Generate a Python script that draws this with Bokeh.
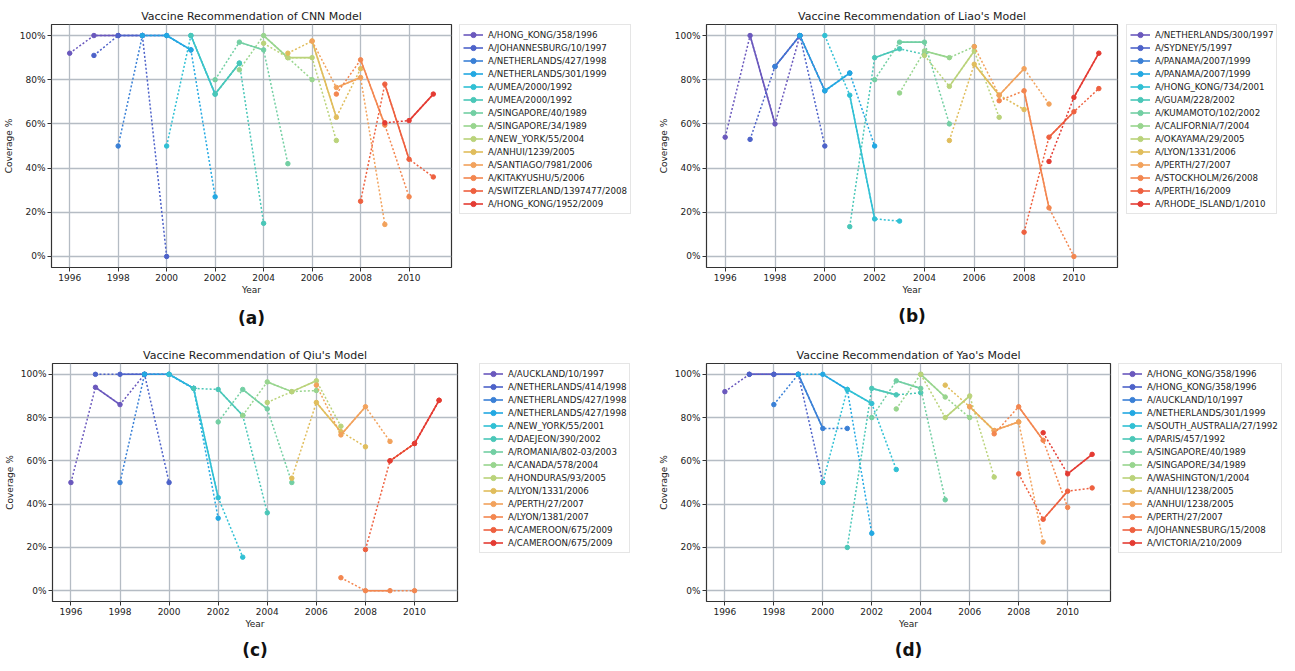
from bokeh.plotting import figure
from bokeh.models import Legend, LegendItem, FixedTicker, PrintfTickFormatter, Title
from bokeh.layouts import column, row
from bokeh.embed import file_html
from bokeh.resources import INLINE

# season year in which each recommended strain is in use (solid segment start)
SEASON_START = [1997, 1998, 1999, 2000, 2001, 2002, 2003, 2004, 2005, 2006, 2007, 2008, 2009, 2010]
X_TICKS = [1996, 1998, 2000, 2002, 2004, 2006, 2008, 2010]
Y_TICKS = [0, 20, 40, 60, 80, 100]

COLORS = ["#6a58bd", "#4d62c9", "#3a80d6", "#22a8e2", "#30c0d4", "#4ac7b8", "#72cfa3",
          "#98d58e", "#bad37a", "#e0bd5c", "#f2a25c", "#f3864f", "#ee603f", "#e43b33"]

# coverage (%) at years start-1, start, start+1, start+2
cnn_labels = ["A/HONG_KONG/358/1996", "A/JOHANNESBURG/10/1997", "A/NETHERLANDS/427/1998",
              "A/NETHERLANDS/301/1999", "A/UMEA/2000/1992", "A/UMEA/2000/1992",
              "A/SINGAPORE/40/1989", "A/SINGAPORE/34/1989", "A/NEW_YORK/55/2004",
              "A/ANHUI/1239/2005", "A/SANTIAGO/7981/2006", "A/KITAKYUSHU/5/2006",
              "A/SWITZERLAND/1397477/2008", "A/HONG_KONG/1952/2009"]
cnn_values = [[92, 100, 100, 100], [91, 100, 100, 0], [50, 100, 100, 93.5], [100, 100, 93.5, 27],
              [50, 100, 73.5, 87.5], [100, 73.5, 87.5, 15], [80, 97, 93.5, 42], [84.5, 100, 90, 80],
              [96.5, 90, 90, 52.5], [92, 97.5, 63, 85], [97.5, 76.5, 81, 14.5], [73.5, 89, 59.5, 27],
              [25, 78, 44, 36], [60.5, 61.5, 73.5]]

liao_labels = ["A/NETHERLANDS/300/1997", "A/SYDNEY/5/1997", "A/PANAMA/2007/1999", "A/PANAMA/2007/1999",
               "A/HONG_KONG/734/2001", "A/GUAM/228/2002", "A/KUMAMOTO/102/2002", "A/CALIFORNIA/7/2004",
               "A/OKAYAMA/29/2005", "A/LYON/1331/2006", "A/PERTH/27/2007", "A/STOCKHOLM/26/2008",
               "A/PERTH/16/2009", "A/RHODE_ISLAND/1/2010"]
liao_values = [[54, 100, 60, 100], [53, 86, 100, 50], [86, 100, 75, 83], [100, 75, 83, 50],
               [100, 73, 17, 16], [13.5, 90, 94, 91.5], [80, 97, 97, 60], [74, 93, 90, 95],
               [91, 77, 93, 63], [52.5, 87, 73, 66.5], [95, 73, 85, 69], [70.5, 75, 22, 0],
               [11, 54, 65.5, 76], [43, 72, 92]]

qiu_labels = ["A/AUCKLAND/10/1997", "A/NETHERLANDS/414/1998", "A/NETHERLANDS/427/1998",
              "A/NETHERLANDS/427/1998", "A/NEW_YORK/55/2001", "A/DAEJEON/390/2002",
              "A/ROMANIA/802-03/2003", "A/CANADA/578/2004", "A/HONDURAS/93/2005", "A/LYON/1331/2006",
              "A/PERTH/27/2007", "A/LYON/1381/2007", "A/CAMEROON/675/2009", "A/CAMEROON/675/2009"]
qiu_values = [[50, 94, 86, 100], [100, 100, 100, 50], [50, 100, 100, 93.5], [100, 100, 93.5, 33.5],
              [100, 93.5, 43, 15.5], [93.5, 93, 81, 36], [78, 93, 84, 50], [81, 96.5, 92, 92.5],
              [87, 92, 97, 76], [52, 87, 73.5, 66.5], [95, 72, 85, 69], [6, 0, 0, 0],
              [19, 60, 68, 88], [60, 68, 88]]

yao_labels = ["A/HONG_KONG/358/1996", "A/HONG_KONG/358/1996", "A/AUCKLAND/10/1997",
              "A/NETHERLANDS/301/1999", "A/SOUTH_AUSTRALIA/27/1992", "A/PARIS/457/1992",
              "A/SINGAPORE/40/1989", "A/SINGAPORE/34/1989", "A/WASHINGTON/1/2004", "A/ANHUI/1238/2005",
              "A/ANHUI/1238/2005", "A/PERTH/27/2007", "A/JOHANNESBURG/15/2008", "A/VICTORIA/210/2009"]
yao_values = [[92, 100, 100, 100], [100, 100, 100, 50], [86, 100, 75, 75], [100, 100, 93, 26.5],
              [50, 93, 86.5, 56], [20, 93.5, 90.5, 91.5], [80, 97, 93.5, 42], [84, 100, 89.5, 80],
              [100, 80, 90, 52.5], [95, 85, 74, 78], [85, 74, 78, 22.5], [72.5, 85, 69.5, 38.5],
              [54, 33, 46, 47.5], [73, 54, 63]]

FONT = "DejaVu Sans"
DOT = 4.5


def make_panel(title, labels, values, letter, b_left, frame_w, b_right, height, b_top, frame_h,
               title_standoff, letter_standoff):
    width = b_left + frame_w + b_right
    p = figure(width=width, height=height, x_range=(1995.25, 2011.75), y_range=(-5, 105),
               output_backend="svg", toolbar_location=None,
               min_border_left=b_left, min_border_top=b_top,
               min_border_bottom=height - b_top - frame_h, min_border_right=b_right)
    p.title.text = title
    p.title.align = "center"
    p.title.text_font = FONT
    p.title.text_font_size = "11px"
    p.title.text_font_style = "normal"
    p.title.text_color = "#222222"
    p.title.standoff = title_standoff
    p.outline_line_color = "#333333"
    p.outline_line_width = 1.2
    p.outline_line_alpha = 1
    p.background_fill_color = "white"
    p.border_fill_color = "white"

    for ax in (p.xaxis[0], p.yaxis[0]):
        ax.axis_line_color = None
        ax.major_tick_in = 0
        ax.major_tick_out = 4
        ax.major_tick_line_color = "#333333"
        ax.minor_tick_line_color = None
        ax.major_label_text_font = FONT
        ax.major_label_text_font_size = "9px"
        ax.major_label_text_color = "#222222"
        ax.axis_label_text_font = FONT
        ax.axis_label_text_font_size = "9px"
        ax.axis_label_text_font_style = "normal"
        ax.axis_label_text_color = "#222222"
        ax.major_label_standoff = 2
    p.xaxis.ticker = FixedTicker(ticks=X_TICKS)
    p.yaxis.ticker = FixedTicker(ticks=Y_TICKS)
    p.yaxis.formatter = PrintfTickFormatter(format="%d%%")
    p.xaxis.axis_label = "Year"
    p.yaxis.axis_label = "Coverage %"
    p.xaxis.axis_label_standoff = 1
    p.yaxis.axis_label_standoff = 3
    for g in (p.xgrid[0], p.ygrid[0]):
        g.grid_line_color = "#b5bcc4"
        g.grid_line_width = 1.3

    for k, vals in enumerate(values):
        start = SEASON_START[k]
        xs = [start - 1 + i for i in range(len(vals))]
        c = COLORS[k]
        p.line(xs, vals, line_color=c, line_width=1.5, line_dash="2 2")
        p.line(xs[1:3], vals[1:3], line_color=c, line_width=1.6)
        p.scatter(xs, vals, size=DOT, fill_color=c, line_color=c)

    p.add_layout(Title(text=letter, align="center", text_font=FONT, text_font_size="17px",
                       text_font_style="bold", text_color="#111111", standoff=letter_standoff), "below")
    return p


def make_legend(labels, width, height, top):
    # legend-only canvas; the key renderers sit outside its visible range
    q = figure(width=width, height=height, x_range=(0, 1), y_range=(0, 1),
               output_backend="svg", toolbar_location=None,
               x_axis_location=None, y_axis_location=None,
               min_border_left=0, min_border_right=0, min_border_top=top, min_border_bottom=0)
    q.grid.visible = False
    q.outline_line_color = None
    q.background_fill_color = "white"
    q.border_fill_color = "white"
    items = []
    for k, lab in enumerate(labels):
        c = COLORS[k]
        ln = q.line(x=[5, 6], y=[5, 6], line_color=c, line_width=1.6)
        dt = q.scatter(x=[5], y=[5], size=DOT, fill_color=c, line_color=c)
        items.append(LegendItem(label=lab, renderers=[ln, dt]))
    legend = Legend(items=items, location="top_left", margin=0,
                    label_text_font=FONT, label_text_font_size="8.7px", label_text_color="#222222",
                    label_height=13, glyph_height=13, glyph_width=20, spacing=0, padding=3,
                    label_standoff=5, border_line_color="#cccccc", border_line_width=1,
                    background_fill_color="white", background_fill_alpha=1)
    q.add_layout(legend)
    return q


pa = make_panel("Vaccine Recommendation of CNN Model", cnn_labels, cnn_values, "(a)",
                51, 400, 8, 344, 24, 243, 3, 17)
la = make_legend(cnn_labels, 196, 344, 24)
pb = make_panel("Vaccine Recommendation of Liao's Model", liao_labels, liao_values, "(b)",
                51, 411, 9, 344, 24, 252, 3, 13)
lb = make_legend(liao_labels, 160, 344, 24)
pc = make_panel("Vaccine Recommendation of Qiu's Model", qiu_labels, qiu_values, "(c)",
                52, 405, 22, 322, 16, 246, 4, 13)
lc = make_legend(qiu_labels, 176, 322, 15)
pd = make_panel("Vaccine Recommendation of Yao's Model", yao_labels, yao_values, "(d)",
                50, 405, 8, 322, 16, 246, 4, 13)
ld = make_legend(yao_labels, 168, 322, 15)

layout = column(row(pa, la, pb, lb), row(pc, lc, pd, ld))
open("out.html", "w").write(file_html(layout, INLINE))
